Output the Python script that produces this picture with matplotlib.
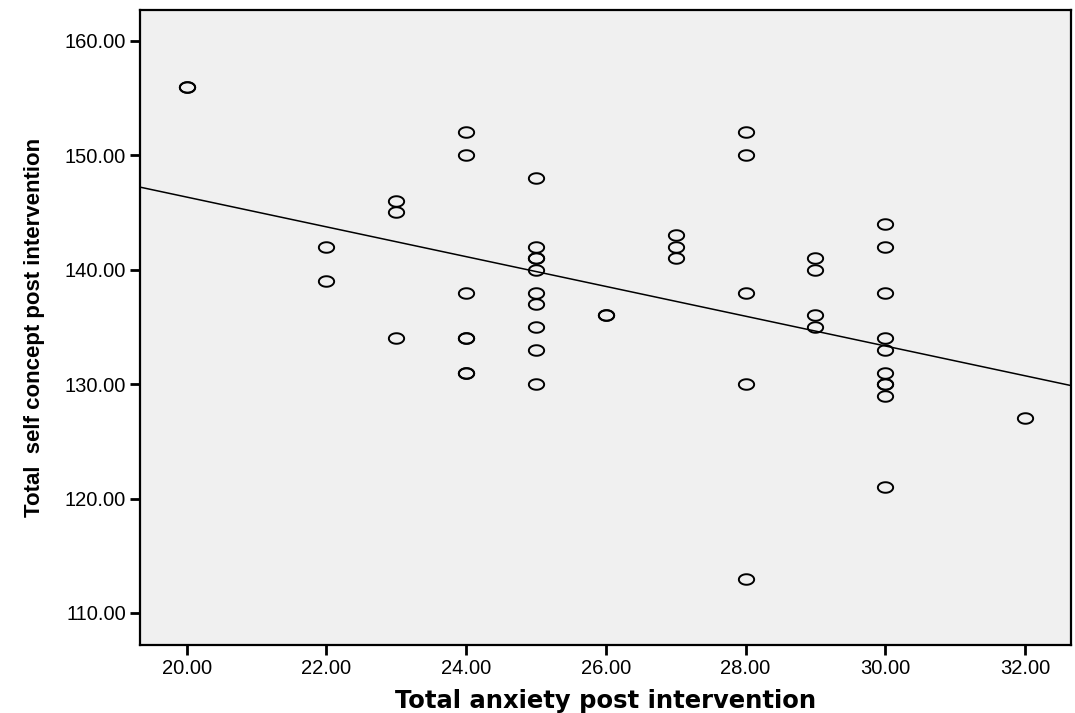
import matplotlib

matplotlib.use("Agg")

import matplotlib.pyplot as plt
import numpy as np
from matplotlib.path import Path

# anxiety (x) and self concept (y), post intervention
anxiety = [20, 20,
           22, 22,
           23, 23, 23,
           24, 24, 24, 24, 24, 24, 24,
           25, 25, 25, 25, 25, 25, 25, 25, 25, 25,
           26, 26,
           27, 27, 27,
           28, 28, 28, 28, 28,
           29, 29, 29, 29,
           30, 30, 30, 30, 30, 30, 30, 30, 30, 30,
           32]
self_concept = [156, 156,
                142, 139,
                146, 145, 134,
                152, 150, 138, 134, 134, 131, 131,
                148, 142, 141, 141, 140, 138, 137, 135, 133, 130,
                136, 136,
                143, 142, 141,
                152, 150, 138, 130, 113,
                141, 140, 136, 135,
                144, 142, 138, 134, 133, 131, 130, 130, 129, 121,
                127]
x_ticks = [20, 22, 24, 26, 28, 30, 32]
y_ticks = [110, 120, 130, 140, 150, 160]

plt.rcParams["font.family"] = ["Liberation Sans", "DejaVu Sans"]

fig = plt.figure(figsize=(10.75, 7.13), dpi=100)
ax = fig.add_axes([0.1302, 0.0954, 0.8661, 0.8906])
ax.set_facecolor("#f0f0f0")

# slightly wide ellipse like the SPSS marker
t = np.linspace(0, 2 * np.pi, 60)
ellipse = Path(np.column_stack([1.45 * np.cos(t), np.sin(t)]), closed=True)

ax.plot(anxiety, self_concept, linestyle="none", marker=ellipse, markersize=11,
        markerfacecolor="none", markeredgecolor="black", markeredgewidth=1.4)

xlim = (19.33, 32.66)
slope, intercept = np.polyfit(anxiety, self_concept, 1)
xs = np.array(xlim)
ax.plot(xs, slope * xs + intercept, color="black", linewidth=1.1)

ax.set_xlim(*xlim)
ax.set_ylim(107.2, 162.7)
ax.set_xticks(x_ticks)
ax.set_xticklabels(["%.2f" % v for v in x_ticks])
ax.set_yticks(y_ticks)
ax.set_yticklabels(["%.2f" % v for v in y_ticks])
ax.tick_params(direction="out", length=7, width=2, labelsize=14.5, pad=3)

for s in ax.spines.values():
    s.set_linewidth(1.6)

ax.set_xlabel("Total anxiety post intervention", fontsize=17.5, fontweight="bold",
              family=["DejaVu Sans"], labelpad=8)
ax.set_ylabel("Total  self concept post intervention", fontsize=16, fontweight="bold",
              family=["Liberation Sans Narrow", "Liberation Sans", "DejaVu Sans"], labelpad=14)

fig.savefig("out.png", dpi=100)
